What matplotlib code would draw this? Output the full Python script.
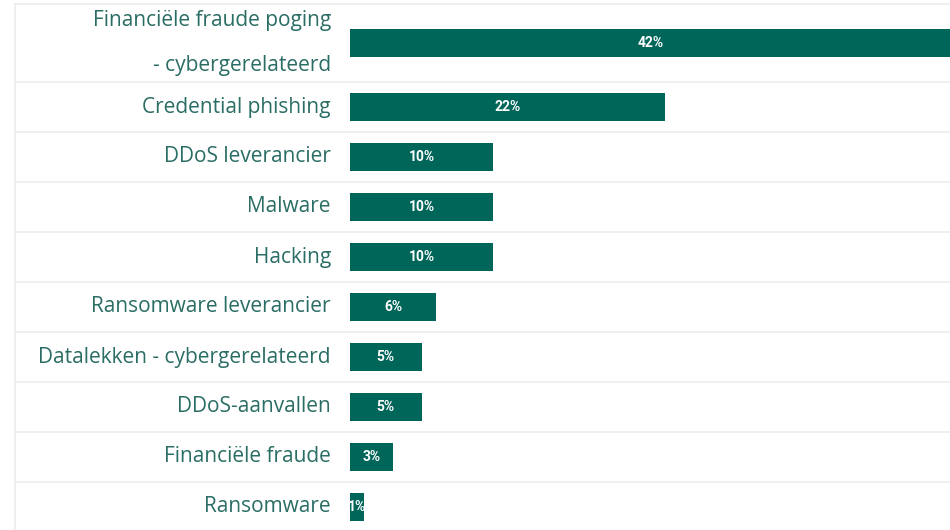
import numpy as np
import matplotlib.pyplot as plt

categories = [
    "Financiële fraude poging\n- cybergerelateerd",
    "Credential phishing",
    "DDoS leverancier",
    "Malware",
    "Hacking",
    "Ransomware leverancier",
    "Datalekken - cybergerelateerd",
    "DDoS-aanvallen",
    "Financiële fraude",
    "Ransomware",
]
values = [42, 22, 10, 10, 10, 6, 5, 5, 3, 1]

# row heights in pixels (first row holds a two-line label)
row_heights = [78] + [50] * 9
top = 4
edges = top + np.concatenate([[0], np.cumsum(row_heights)])
centers = (edges[:-1] + edges[1:]) / 2

BAR = '#00665a'
TXT = '#2a6d64'
GRID = '#ececec'

W, H = 950, 530
fig = plt.figure(figsize=(9.5, 5.3), dpi=100)
ax = fig.add_axes([0, 0, 1, 1])

# pixel mapping: 0% at x=350, 22% at x=665
px_per = (665 - 350) / 22
x0 = -350 / px_per
ax.set_xlim(x0, x0 + W / px_per)
ax.set_ylim(H, 0)
ax.axis('off')

left_px = 15
xl = x0 + left_px / px_per
# table lines
for e in edges[:-1]:
    ax.plot([xl, x0 + W / px_per], [e, e], color=GRID, lw=1.2, zorder=0)
ax.plot([xl, xl], [top, H], color=GRID, lw=1.2, zorder=0)

ax.barh(centers, values, height=28.5, color=BAR, zorder=2)

lab_x = x0 + 331 / px_per
for c, cat, v in zip(centers, categories, values):
    ax.text(lab_x, c, cat, ha='right', va='center', color=TXT,
            fontsize=15, family='Open Sans', linespacing=2.45)
    ax.text(v / 2, c, f'{v}%', ha='center', va='center', color='white',
            fontsize=10, fontweight='bold', family='Roboto', zorder=3)

fig.savefig('out.png', dpi=100)
